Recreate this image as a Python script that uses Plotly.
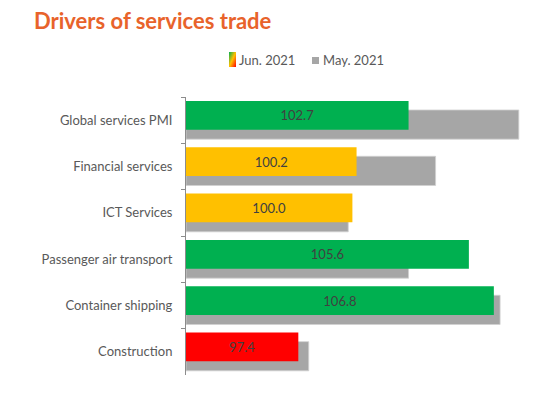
import base64
import plotly.graph_objects as go

# ---- data ----
categories = ["Global services PMI", "Financial services", "ICT Services",
              "Passenger air transport", "Container shipping", "Construction"]
jun_2021 = [102.7, 100.2, 100.0, 105.6, 106.8, 97.4]
may_2021 = [108.0, 104.0, 99.8, 102.7, 107.1, 97.9]
jun_colors = ["#00B050", "#FFC000", "#FFC000", "#00B050", "#00B050", "#FF0000"]
series_names = ["Jun. 2021", "May. 2021"]
axis_base = 92

# page body has an 8px margin -> work in page pixels, shift by 8
OFF = 8
W, H = 556 - 2 * OFF, 393 - 2 * OFF
AX_L, AX_R, AX_T, AX_B = 186, 540, 97, 375   # page pixel positions of plot area
ML, MR, MT, MB = AX_L - OFF, W - (AX_R - OFF), AX_T - OFF, H - (AX_B - OFF)
PW, PH = W - ML - MR, H - MT - MB
px_per_unit = 20.8
x_max = axis_base + PW / px_per_unit

FONT = "Lato, Carlito, 'Open Sans', sans-serif"
TXT = "#595959"


def px_x(p):
    return (p - OFF - ML) / PW


def px_y(p):
    return (H - MB - (p - OFF)) / PH


fig = go.Figure()

# May (behind)
fig.add_trace(go.Bar(
    y=categories,
    x=[v - axis_base for v in may_2021],
    base=axis_base,
    orientation="h",
    name=series_names[1],
    marker=dict(color="#A6A6A6", line=dict(color="#D0D0D0", width=0.8)),
    offset=-0.22, width=0.63,
    textposition="none",
    showlegend=False,
))

# Jun (front)
fig.add_trace(go.Bar(
    y=categories,
    x=[v - axis_base for v in jun_2021],
    base=axis_base,
    orientation="h",
    name=series_names[0],
    marker=dict(color=jun_colors, line=dict(width=0)),
    offset=-0.415, width=0.62,
    text=[f"{v:.1f}" for v in jun_2021],
    textposition="inside",
    insidetextanchor="middle",
    textangle=0,
    textfont=dict(family=FONT, size=13, color="#404040"),
    showlegend=False,
))

# gradient swatch for the Jun legend entry
svg = ('<svg xmlns="http://www.w3.org/2000/svg" width="10" height="20">'
       '<defs><linearGradient id="g" x1="0" y1="0" x2="1" y2="1">'
       '<stop offset="0" stop-color="#00B050"/>'
       '<stop offset="0.5" stop-color="#FFC000"/>'
       '<stop offset="1" stop-color="#FF0000"/>'
       '</linearGradient></defs>'
       '<rect width="10" height="20" fill="url(#g)"/></svg>')
uri = "data:image/svg+xml;base64," + base64.b64encode(svg.encode()).decode()

sw_x0, sw_x1, sw_y0, sw_y1 = 229, 236, 52, 67
fig.add_layout_image(dict(
    source=uri, xref="paper", yref="paper",
    x=px_x(sw_x0), y=px_y(sw_y0),
    sizex=px_x(sw_x1) - px_x(sw_x0), sizey=px_y(sw_y0) - px_y(sw_y1),
    sizing="stretch", xanchor="left", yanchor="top", layer="above",
))

# gray swatch for May
fig.add_shape(type="rect", xref="paper", yref="paper",
              x0=px_x(312), x1=px_x(319), y0=px_y(64), y1=px_y(57),
              fillcolor="#A6A6A6", line=dict(width=0))

fig.add_annotation(text=series_names[0], xref="paper", yref="paper",
                   x=px_x(237), y=px_y(60), xanchor="left", yanchor="middle",
                   showarrow=False, font=dict(family=FONT, size=13, color=TXT))
fig.add_annotation(text=series_names[1], xref="paper", yref="paper",
                   x=px_x(321), y=px_y(60), xanchor="left", yanchor="middle",
                   showarrow=False, font=dict(family=FONT, size=13, color=TXT))

fig.update_layout(
    width=W, height=H,
    margin=dict(l=ML, r=MR, t=MT, b=MB),
    paper_bgcolor="white", plot_bgcolor="white",
    barmode="overlay",
    showlegend=False,
    font=dict(family=FONT, size=13, color=TXT),
    title=dict(text="<b>Drivers of services trade</b>",
               x=(34 - OFF) / W, xanchor="left", xref="container",
               y=1 - (21 - OFF) / H, yanchor="middle", yref="container",
               font=dict(family=FONT, size=22, color="#E8632B")),
    xaxis=dict(range=[axis_base, x_max], visible=False, showgrid=False, zeroline=False),
    yaxis=dict(type="category", autorange="reversed",
               showline=True, linecolor="#8C8C8C", linewidth=1,
               ticks="outside", ticklen=4, tickcolor="#8C8C8C", tickwidth=1,
               tickson="boundaries", showgrid=False,
               ticklabelstandoff=10,
               tickfont=dict(family=FONT, size=13, color=TXT)),
)

fig.write_html("out.html")
